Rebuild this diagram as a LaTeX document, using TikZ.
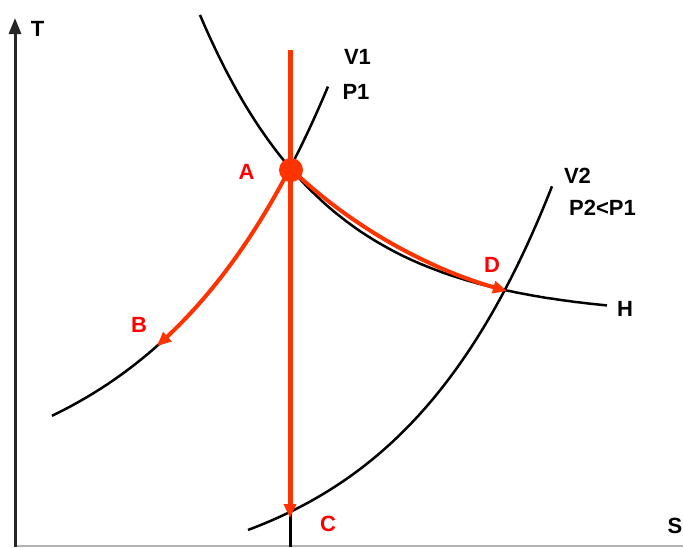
\documentclass[tikz,border=0pt]{standalone}
\usepackage{fontspec}
\setmainfont{Liberation Sans}
\usetikzlibrary{arrows.meta}
\definecolor{redline}{HTML}{FF3300}
\definecolor{redtext}{HTML}{FF0000}
\begin{document}
\begin{tikzpicture}[x=1pt,y=-1pt,
  curve/.style={black, line width=2.5pt},
  axisline/.style={black!85, line width=3pt},
  redpath/.style={redline, line width=4pt, -{Triangle[length=14pt,width=12pt]}},
  lbl/.style={font=\fontsize{22}{26}\selectfont\bfseries, inner sep=0pt, anchor=center},
  rlbl/.style={lbl, text=redtext}]
\useasboundingbox (0,0) rectangle (683,547);
% key points
\coordinate (A) at (290,168);
\coordinate (B) at (157,346);
\coordinate (C) at (290,518);
\coordinate (Cb) at (290,512);
\coordinate (D) at (507,291);
\coordinate (Vtop) at (290,50);
\coordinate (Vbot) at (290,547);
\coordinate (O) at (15,547);
\coordinate (Ttop) at (15,18);
\coordinate (Send) at (683,546);
% axes
\draw[gray!60, line width=1.5pt] (15,546) -- (Send);
\draw[axisline, -{Triangle[length=16pt,width=12pt]}] (O) -- (Ttop);
% isochore V1
\draw[curve] plot[domain=52:328, samples=90, variable=\x] (\x, {168 - 172.4*(exp(0.0058*(\x-177.5)) - 1.9204)});
% isenthalp H
\draw[curve] plot[domain=200:607, samples=90, variable=\x] (\x, {318.1 - 1442*exp(-0.0078*\x)});
% isochore V2
\draw[curve] plot[domain=248:552, samples=90, variable=\x] (\x, {589.25 - 12.43*exp(0.0063*\x)});
% isentrope (lower part visible)
\draw[black, line width=3pt] (Cb) -- (Vbot);
% red processes
\draw[redpath, line width=5pt] (Vtop) -- (C);
\draw[redpath] plot[domain=290:157, samples=50, variable=\x] (\x, {168 - 172.4*(exp(0.0058*(\x-177.5)) - 1.9204)});
\draw[redpath] (A) .. controls (360,235) and (440,272) .. (D);
\fill[redline] (291,170) circle[radius=12pt];
% labels
\node[lbl] (lT) at (37.5,29) {T};
\node[lbl] (lS) at (675,526) {S};
\node[lbl] (lV1) at (357.5,57) {V1};
\node[lbl] (lP1) at (356,92) {P1};
\node[lbl] (lV2) at (577.5,176) {V2};
\node[lbl] (lP2) at (602.5,207.5) {P2<P1};
\node[lbl] (lH) at (625,309) {H};
\node[rlbl] (lA) at (246.5,172) {A};
\node[rlbl] (lB) at (139,325) {B};
\node[rlbl] (lC) at (328,524) {C};
\node[rlbl] (lD) at (492,265) {D};
\end{tikzpicture}
\end{document}
